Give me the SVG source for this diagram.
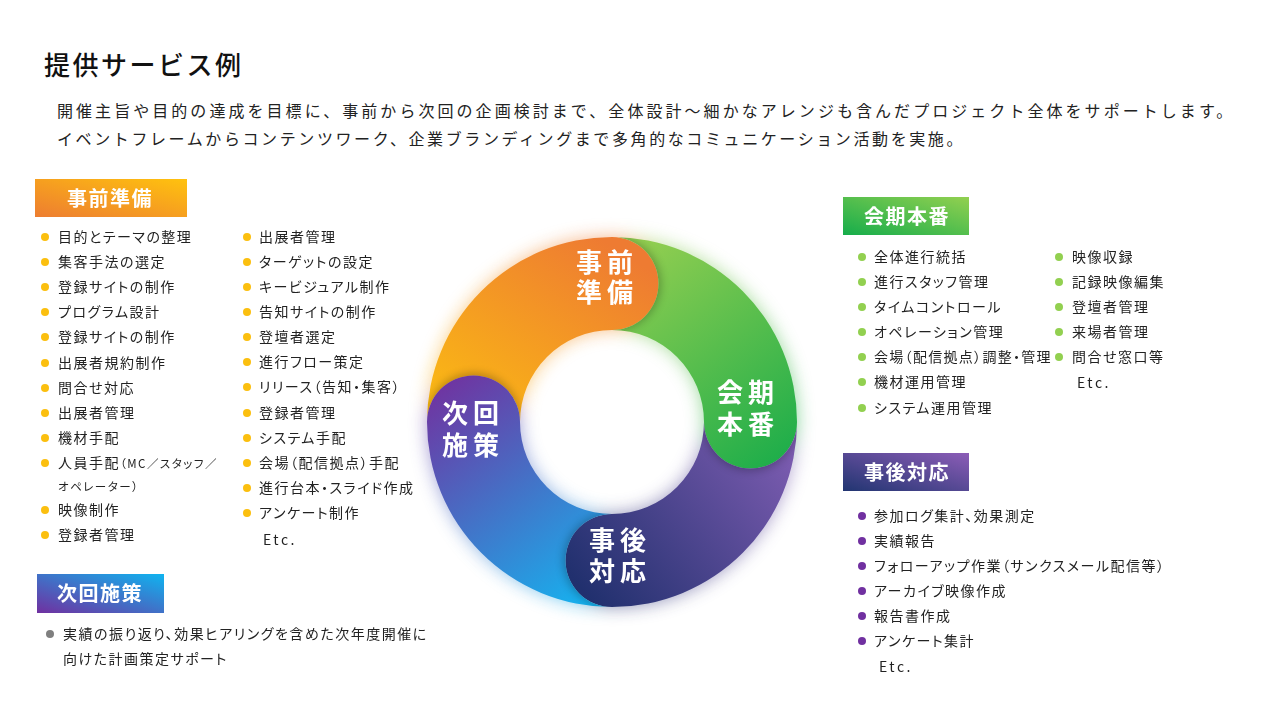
<svg xmlns="http://www.w3.org/2000/svg" width="1280" height="720" viewBox="0 0 1280 720">
<defs>
<style>
text{font-family:'Noto Sans CJK JP','Noto Sans',sans-serif;}
.title{font-size:26px;font-weight:500;fill:#111;letter-spacing:2.5px;}
.desc{font-size:16px;fill:#222;letter-spacing:3.05px;}
.hd{font-size:20px;font-weight:700;fill:#fff;letter-spacing:1.5px;}
.li{font-size:14px;fill:#222;letter-spacing:1.5px;font-feature-settings:"palt";}
.sm{font-size:11.5px;}
.etc{letter-spacing:2.5px;}
.rl{font-size:26px;font-weight:700;fill:#fff;letter-spacing:5px;}
.by{fill:#FBBF0F;}
.bg{fill:#92D050;}
.bp{fill:#7030A0;}
.bk{fill:#7F7F7F;}
</style>
<linearGradient id="gHdO" x1="0" y1="1" x2="1" y2="0"><stop offset="0" stop-color="#ED7D31"/><stop offset="1" stop-color="#FFC20E"/></linearGradient>
<linearGradient id="gHdG" x1="0" y1="1" x2="1" y2="0"><stop offset="0" stop-color="#16AD4B"/><stop offset="1" stop-color="#92D050"/></linearGradient>
<linearGradient id="gHdP" x1="0" y1="1" x2="1" y2="0"><stop offset="0" stop-color="#213571"/><stop offset="1" stop-color="#8C5DB7"/></linearGradient>
<linearGradient id="gHdB" x1="0" y1="1" x2="1" y2="0"><stop offset="0" stop-color="#7030A0"/><stop offset="1" stop-color="#0FB4F0"/></linearGradient>
<linearGradient id="gO" gradientUnits="userSpaceOnUse" x1="480" y1="450" x2="610" y2="245"><stop offset="0" stop-color="#FBBD12"/><stop offset="1" stop-color="#EE7B32"/></linearGradient>
<linearGradient id="gG" gradientUnits="userSpaceOnUse" x1="630" y1="250" x2="790" y2="460"><stop offset="0" stop-color="#92CE50"/><stop offset="1" stop-color="#1CAD4A"/></linearGradient>
<linearGradient id="gP" gradientUnits="userSpaceOnUse" x1="790" y1="440" x2="590" y2="600"><stop offset="0" stop-color="#7E5DB2"/><stop offset="1" stop-color="#21306E"/></linearGradient>
<linearGradient id="gB" gradientUnits="userSpaceOnUse" x1="590" y1="600" x2="440" y2="390"><stop offset="0" stop-color="#17B1EE"/><stop offset="1" stop-color="#6E36A2"/></linearGradient>
<filter id="glow" x="-30%" y="-30%" width="160%" height="160%"><feGaussianBlur stdDeviation="9"/></filter>
<filter id="soft" x="-50%" y="-50%" width="200%" height="200%"><feGaussianBlur stdDeviation="4"/></filter>
<path id="segO" d="M427 422A185 185 0 0 1 612 237A46.5 46.5 0 0 1 612 330A92 92 0 0 0 520 422A46.5 46.5 0 0 0 427 422Z"/>
<path id="segG" d="M612 237A185 185 0 0 1 797 422A46.5 46.5 0 0 1 704 422A92 92 0 0 0 612 330A46.5 46.5 0 0 0 612 237Z"/>
<path id="segP" d="M797 422A185 185 0 0 1 612 607A46.5 46.5 0 0 1 612 514A92 92 0 0 0 704 422A46.5 46.5 0 0 0 797 422Z"/>
<path id="segB" d="M612 607A185 185 0 0 1 427 422A46.5 46.5 0 0 1 520 422A92 92 0 0 0 612 514A46.5 46.5 0 0 0 612 607Z"/>
<clipPath id="cG"><use href="#segG"/></clipPath>
<clipPath id="cP"><use href="#segP"/></clipPath>
<clipPath id="cB"><use href="#segB"/></clipPath>
<clipPath id="cO"><use href="#segO"/></clipPath>
</defs>
<rect width="1280" height="720" fill="#fff"/>

<g id="header">
<text class="title" x="44" y="75">提供サービス例</text>
<text class="desc" x="57" y="117">開催主旨や目的の達成を目標に、事前から次回の企画検討まで、全体設計～細かなアレンジも含んだプロジェクト全体をサポートします。</text>
<text class="desc" x="57" y="145" style="letter-spacing:2.6px">イベントフレームからコンテンツワーク、企業ブランディングまで多角的なコミュニケーション活動を実施。</text>
</g>

<g id="cycle">
<g opacity="0.55" filter="url(#glow)">
<use href="#segO" fill="url(#gO)"/>
<use href="#segG" fill="url(#gG)"/>
<use href="#segP" fill="url(#gP)"/>
<use href="#segB" fill="url(#gB)"/>
</g>
<g id="seg-jizen"><use href="#segO" fill="url(#gO)"/></g>
<g id="seg-kaiki"><use href="#segG" fill="url(#gG)"/></g>
<g id="seg-jigo"><use href="#segP" fill="url(#gP)"/></g>
<g id="seg-jikai"><use href="#segB" fill="url(#gB)"/></g>
<g opacity="0.25">
<g clip-path="url(#cG)"><circle cx="614" cy="283.5" r="47" fill="#000" filter="url(#soft)"/></g>
<g clip-path="url(#cP)"><circle cx="750.5" cy="424" r="47" fill="#000" filter="url(#soft)"/></g>
<g clip-path="url(#cB)"><circle cx="610" cy="560.5" r="47" fill="#000" filter="url(#soft)"/></g>
<g clip-path="url(#cO)"><circle cx="473.5" cy="420" r="47" fill="#000" filter="url(#soft)"/></g>
</g>
<text class="rl"><tspan x="576" y="272">事前</tspan><tspan x="576" y="302">準備</tspan></text>
<text class="rl"><tspan x="717" y="402">会期</tspan><tspan x="717" y="434">本番</tspan></text>
<text class="rl"><tspan x="589" y="550">事後</tspan><tspan x="589" y="581">対応</tspan></text>
<text class="rl"><tspan x="442" y="423">次回</tspan><tspan x="442" y="455">施策</tspan></text>
</g>

<g id="node-jizen">
<rect x="35" y="179" width="152" height="38" fill="url(#gHdO)"/>
<text class="hd" x="67" y="205.5">事前準備</text>
<g class="by">
<circle cx="45" cy="237" r="4"/><circle cx="45" cy="262" r="4"/><circle cx="45" cy="287" r="4"/><circle cx="45" cy="312" r="4"/><circle cx="45" cy="337" r="4"/><circle cx="45" cy="363" r="4"/><circle cx="45" cy="388" r="4"/><circle cx="45" cy="413" r="4"/><circle cx="45" cy="438" r="4"/><circle cx="45" cy="463" r="4"/><circle cx="45" cy="510" r="4"/><circle cx="45" cy="535" r="4"/>
<circle cx="247" cy="237" r="4"/><circle cx="247" cy="262" r="4"/><circle cx="247" cy="287" r="4"/><circle cx="247" cy="312" r="4"/><circle cx="247" cy="337" r="4"/><circle cx="247" cy="362" r="4"/><circle cx="247" cy="387" r="4"/><circle cx="247" cy="413" r="4"/><circle cx="247" cy="438" r="4"/><circle cx="247" cy="463" r="4"/><circle cx="247" cy="488" r="4"/><circle cx="247" cy="513" r="4"/>
</g>
<text class="li" x="58" y="242">目的とテーマの整理</text>
<text class="li" x="58" y="267">集客手法の選定</text>
<text class="li" x="58" y="292">登録サイトの制作</text>
<text class="li" x="58" y="317">プログラム設計</text>
<text class="li" x="58" y="342">登録サイトの制作</text>
<text class="li" x="58" y="368">出展者規約制作</text>
<text class="li" x="58" y="393">問合せ対応</text>
<text class="li" x="58" y="418">出展者管理</text>
<text class="li" x="58" y="443">機材手配</text>
<text class="li" x="58" y="468">人員手配<tspan class="sm">（MC／スタッフ／</tspan></text>
<text class="li sm" x="58" y="491">オペレーター）</text>
<text class="li" x="58" y="515">映像制作</text>
<text class="li" x="58" y="540">登録者管理</text>
<text class="li" x="259" y="242">出展者管理</text>
<text class="li" x="259" y="267">ターゲットの設定</text>
<text class="li" x="259" y="292">キービジュアル制作</text>
<text class="li" x="259" y="317">告知サイトの制作</text>
<text class="li" x="259" y="342">登壇者選定</text>
<text class="li" x="259" y="367">進行フロー策定</text>
<text class="li" x="259" y="392">リリース（告知・集客）</text>
<text class="li" x="259" y="418">登録者管理</text>
<text class="li" x="259" y="443">システム手配</text>
<text class="li" x="259" y="468">会場（配信拠点）手配</text>
<text class="li" x="259" y="493">進行台本・スライド作成</text>
<text class="li" x="259" y="518">アンケート制作</text>
<text class="li etc" x="263" y="545">Etc.</text>
</g>

<g id="node-kaiki">
<rect x="843" y="197" width="126" height="38" fill="url(#gHdG)"/>
<text class="hd" x="864" y="223.5">会期本番</text>
<g class="bg">
<circle cx="862" cy="257" r="4"/><circle cx="862" cy="282" r="4"/><circle cx="862" cy="307" r="4"/><circle cx="862" cy="332" r="4"/><circle cx="862" cy="357" r="4"/><circle cx="862" cy="382" r="4"/><circle cx="862" cy="408" r="4"/>
<circle cx="1059" cy="257" r="4"/><circle cx="1059" cy="282" r="4"/><circle cx="1059" cy="307" r="4"/><circle cx="1059" cy="332" r="4"/><circle cx="1059" cy="357" r="4"/>
</g>
<text class="li" x="874" y="262">全体進行統括</text>
<text class="li" x="874" y="287">進行スタッフ管理</text>
<text class="li" x="874" y="312">タイムコントロール</text>
<text class="li" x="874" y="337">オペレーション管理</text>
<text class="li" x="874" y="362" style="letter-spacing:1.3px">会場（配信拠点）調整・管理</text>
<text class="li" x="874" y="387">機材運用管理</text>
<text class="li" x="874" y="413">システム運用管理</text>
<text class="li" x="1072" y="262">映像収録</text>
<text class="li" x="1072" y="287">記録映像編集</text>
<text class="li" x="1072" y="312">登壇者管理</text>
<text class="li" x="1072" y="337">来場者管理</text>
<text class="li" x="1072" y="362">問合せ窓口等</text>
<text class="li etc" x="1077" y="388">Etc.</text>
</g>

<g id="node-jigo">
<rect x="843" y="453" width="126" height="38" fill="url(#gHdP)"/>
<text class="hd" x="864" y="479.5">事後対応</text>
<g class="bp">
<circle cx="862" cy="516" r="4"/><circle cx="862" cy="541" r="4"/><circle cx="862" cy="566" r="4"/><circle cx="862" cy="591" r="4"/><circle cx="862" cy="616" r="4"/><circle cx="862" cy="641" r="4"/>
</g>
<text class="li" x="874" y="521">参加ログ集計、効果測定</text>
<text class="li" x="874" y="546">実績報告</text>
<text class="li" x="874" y="571">フォローアップ作業（サンクスメール配信等）</text>
<text class="li" x="874" y="596">アーカイブ映像作成</text>
<text class="li" x="874" y="621">報告書作成</text>
<text class="li" x="874" y="646">アンケート集計</text>
<text class="li etc" x="879" y="672">Etc.</text>
</g>

<g id="node-jikai">
<rect x="37" y="574" width="127" height="39" fill="url(#gHdB)"/>
<text class="hd" x="57" y="600.5">次回施策</text>
<circle class="bk" cx="50" cy="634" r="4"/>
<text class="li" x="63" y="639">実績の振り返り、効果ヒアリングを含めた次年度開催に</text>
<text class="li" x="63" y="664">向けた計画策定サポート</text>
</g>
</svg>
